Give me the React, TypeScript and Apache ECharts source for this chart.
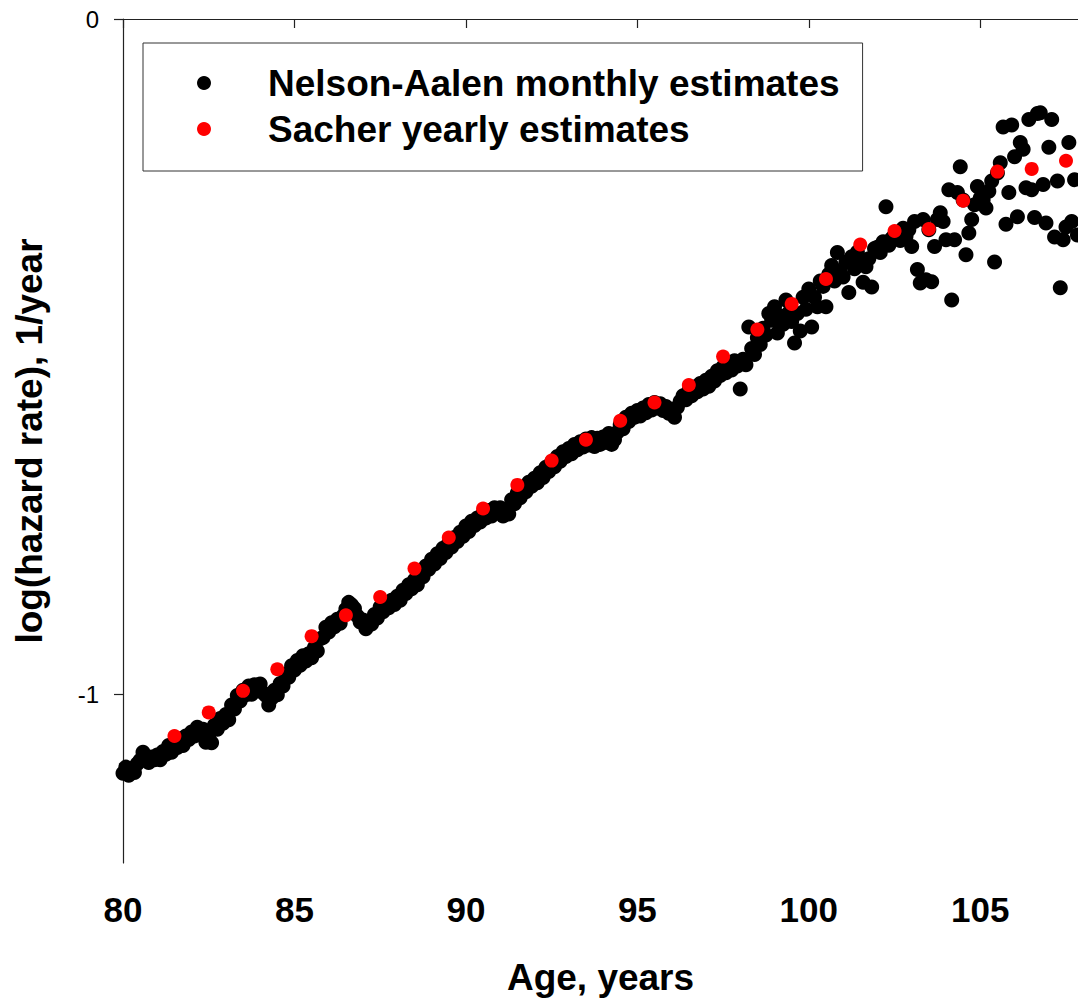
import React, { useEffect, useRef } from "react";
import * as echarts from "echarts";

// Nelson-Aalen monthly estimates, log(hazard rate); one row per year of age, 12 months each
const NA_80_84 = [
  -1.117, -1.108, -1.120, -1.110, -1.116, -1.103, -1.098, -1.086, -1.095, -1.101, -1.093, -1.097,
  -1.090, -1.097, -1.085, -1.089, -1.076, -1.086, -1.073, -1.079, -1.066, -1.076, -1.062, -1.067,
  -1.056, -1.062, -1.049, -1.055, -1.052, -1.071, -1.065, -1.072, -1.046, -1.052, -1.036, -1.043,
  -1.030, -1.038, -1.016, -1.022, -1.002, -1.010, -0.994, -1.001, -0.988, -1.000, -0.986, -0.994,
  -0.985, -0.998, -1.002, -1.016, -1.006, -0.994, -1.001, -0.984, -0.988, -0.970, -0.975, -0.958,
];
const NA_85_89 = [
  -0.964, -0.950, -0.957, -0.943, -0.951, -0.940, -0.946, -0.931, -0.936, -0.918, -0.916, -0.901,
  -0.908, -0.894, -0.900, -0.889, -0.895, -0.884, -0.874, -0.864, -0.868, -0.873, -0.884, -0.893,
  -0.890, -0.903, -0.894, -0.896, -0.882, -0.887, -0.871, -0.878, -0.866, -0.872, -0.861, -0.867,
  -0.855, -0.861, -0.846, -0.851, -0.838, -0.844, -0.831, -0.838, -0.822, -0.826, -0.810, -0.815,
  -0.800, -0.807, -0.792, -0.799, -0.784, -0.790, -0.776, -0.782, -0.768, -0.774, -0.760, -0.766,
];
const NA_90_94 = [
  -0.751, -0.759, -0.744, -0.750, -0.739, -0.745, -0.732, -0.739, -0.728, -0.736, -0.724, -0.731,
  -0.724, -0.736, -0.727, -0.733, -0.712, -0.718, -0.702, -0.709, -0.694, -0.700, -0.686, -0.692,
  -0.680, -0.687, -0.672, -0.679, -0.664, -0.670, -0.656, -0.663, -0.648, -0.655, -0.641, -0.648,
  -0.636, -0.644, -0.630, -0.638, -0.626, -0.634, -0.622, -0.631, -0.620, -0.633, -0.621, -0.630,
  -0.619, -0.627, -0.614, -0.630, -0.623, -0.612, -0.601, -0.607, -0.590, -0.596, -0.584, -0.590,
];
const NA_95_99 = [
  -0.580, -0.588, -0.576, -0.583, -0.571, -0.579, -0.568, -0.576, -0.570, -0.580, -0.574, -0.584,
  -0.578, -0.590, -0.575, -0.566, -0.558, -0.564, -0.551, -0.558, -0.545, -0.552, -0.540, -0.548,
  -0.535, -0.544, -0.529, -0.536, -0.521, -0.528, -0.515, -0.524, -0.511, -0.520, -0.506, -0.514,
  -0.548, -0.504, -0.512, -0.456, -0.488, -0.497, -0.472, -0.482, -0.458, -0.468, -0.436, -0.446,
  -0.426, -0.465, -0.440, -0.452, -0.416, -0.435, -0.448, -0.480, -0.436, -0.462, -0.412, -0.430,
];
const NA_100_104 = [
  -0.400, -0.456, -0.412, -0.426, -0.388, -0.396, -0.426, -0.378, -0.365, -0.388, -0.346, -0.375,
  -0.382, -0.360, -0.405, -0.352, -0.370, -0.345, -0.360, -0.390, -0.367, -0.355, -0.397, -0.340,
  -0.338, -0.346, -0.330, -0.278, -0.335, -0.325, -0.320, -0.317, -0.328, -0.310, -0.322, -0.312,
  -0.337, -0.300, -0.371, -0.391, -0.297, -0.386, -0.312, -0.389, -0.337, -0.297, -0.287, -0.300,
  -0.327, -0.253, -0.416, -0.327, -0.257, -0.219, -0.268, -0.349, -0.317, -0.297, -0.275, -0.248,
];
const NA_105_107 = [
  -0.265, -0.268, -0.280, -0.255, -0.240, -0.360, -0.228, -0.213, -0.160, -0.304, -0.257, -0.157,
  -0.204, -0.293, -0.183, -0.193, -0.250, -0.149, -0.253, -0.294, -0.140, -0.139, -0.245, -0.302,
  -0.190, -0.149, -0.323, -0.240, -0.398, -0.327, -0.308, -0.183, -0.300, -0.238, -0.320, -0.210,
];
const FIRST_AGE = 80;
const MONTHS_PER_YEAR = 12;

// Sacher yearly estimates
const SACHER_AGES = [
  81.5, 82.5, 83.5, 84.5, 85.5, 86.5, 87.5, 88.5, 89.5, 90.5, 91.5, 92.5, 93.5, 94.5,
  95.5, 96.5, 97.5, 98.5, 99.5, 100.5, 101.5, 102.5, 103.5, 104.5, 105.5, 106.5, 107.5,
];
const SACHER_VALUES = [
  -1.062, -1.027, -0.995, -0.963, -0.914, -0.883, -0.856, -0.814, -0.768, -0.725, -0.690, -0.654,
  -0.623, -0.595, -0.568, -0.542, -0.500, -0.460, -0.422, -0.385, -0.334, -0.314, -0.311, -0.269,
  -0.226, -0.222, -0.210,
];

const X_TICKS = [80, 85, 90, 95, 100, 105];
const Y_TICKS = [-1, 0];

const FONT = "'Liberation Sans', Arial, sans-serif";

export default function App() {
  const ref = useRef<HTMLDivElement>(null);

  useEffect(() => {
    document.body.style.margin = "0";
    const chart = echarts.init(ref.current!, null, { renderer: "svg" });

    const naValues = [...NA_80_84, ...NA_85_89, ...NA_90_94, ...NA_95_99, ...NA_100_104, ...NA_105_107];
    const naData = naValues.map((v, i) => [FIRST_AGE + i / MONTHS_PER_YEAR, v]);
    const sacherData = SACHER_AGES.map((a, i) => [a, SACHER_VALUES[i]]);

    const axisLineStyle = { color: "#222", width: 1.2 };

    chart.setOption({
      animation: false,
      backgroundColor: "#fff",
      grid: { left: 123, top: 19, right: 0, bottom: 138, containLabel: false, outerBoundsMode: "none" },
      legend: {
        orient: "vertical",
        left: 143,
        top: 43,
        padding: [20, 23, 22, 54],
        borderColor: "#333",
        borderWidth: 1,
        itemGap: 6,
        itemWidth: 14,
        itemHeight: 14,
        icon: "circle",
        textStyle: {
          fontFamily: FONT,
          fontSize: 37,
          fontWeight: "bold",
          color: "#000",
          lineHeight: 40,
          padding: [0, 0, 0, 52],
        },
        data: ["Nelson-Aalen monthly estimates", "Sacher yearly estimates"],
      },
      xAxis: [
        {
          type: "value",
          min: 80,
          max: 107.85,
          position: "bottom",
          name: "Age, years",
          nameLocation: "middle",
          nameGap: 96,
          nameTextStyle: { fontFamily: FONT, fontSize: 37, fontWeight: "bold", color: "#000" },
          axisLine: { show: true, lineStyle: axisLineStyle },
          axisTick: { show: true, inside: false, length: 9, customValues: X_TICKS, lineStyle: axisLineStyle },
          axisLabel: {
            customValues: X_TICKS,
            margin: 29,
            fontFamily: FONT,
            fontSize: 35,
            fontWeight: "bold",
            color: "#000",
          },
          splitLine: { show: false },
        },
        {
          type: "value",
          min: 80,
          max: 107.85,
          position: "top",
          axisLine: { show: true, lineStyle: axisLineStyle },
          axisTick: { show: false },
          axisLabel: { show: false },
          splitLine: { show: false },
        },
      ],
      yAxis: {
        type: "value",
        min: -1.25,
        max: 0,
        name: "log(hazard rate), 1/year",
        nameLocation: "middle",
        nameGap: 75,
        nameTextStyle: { fontFamily: FONT, fontSize: 37, fontWeight: "bold", color: "#000" },
        axisLine: { show: true, lineStyle: axisLineStyle },
        axisTick: { show: true, inside: false, length: 9, customValues: Y_TICKS, lineStyle: axisLineStyle },
        axisLabel: {
          customValues: Y_TICKS,
          margin: 24,
          fontFamily: FONT,
          fontSize: 24,
          color: "#000",
          formatter: (v: number) => String(v),
        },
        splitLine: { show: false },
      },
      series: [
        {
          name: "Nelson-Aalen monthly estimates",
          type: "scatter",
          symbol: "circle",
          symbolSize: 15,
          itemStyle: { color: "#000", opacity: 1 },
          data: naData,
          z: 2,
        },
        {
          name: "Sacher yearly estimates",
          type: "scatter",
          symbol: "circle",
          symbolSize: 14,
          itemStyle: { color: "#ff0000", opacity: 1 },
          data: sacherData,
          z: 3,
        },
      ],
    });

    return () => chart.dispose();
  }, []);

  return <div ref={ref} style={{ width: 1078, height: 1001 }} />;
}
